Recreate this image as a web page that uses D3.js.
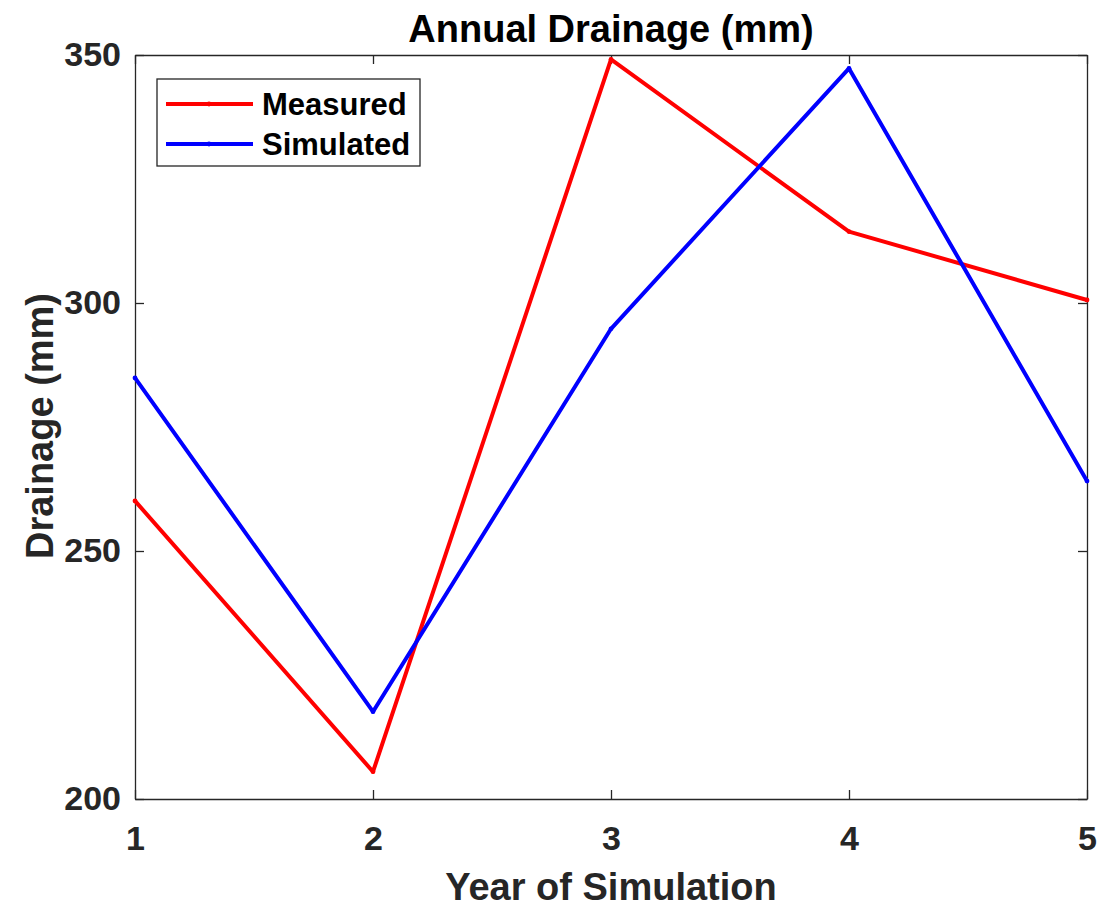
<!DOCTYPE html>
<html>
<head>
<meta charset="utf-8">
<script src="https://cdn.jsdelivr.net/npm/d3@7"></script>
<style>
  body { margin: 0; background: #fff; }
  text { font-family: "Liberation Sans", Arial, sans-serif; font-weight: bold; fill: #262626; }
</style>
</head>
<body>
<div id="chart"></div>
<script>
// data
var years = [1, 2, 3, 4, 5];
var measured = [260.1, 205.5, 349.1, 314.4, 300.6];
var simulated = [284.9, 217.6, 294.8, 347.3, 264.1];
var yTicks = [200, 250, 300, 350];

var margin = {top: 55, right: 17, bottom: 110, left: 135};
var width = 1104 - margin.left - margin.right;
var height = 909 - margin.top - margin.bottom;

var svg = d3.select('#chart')
	.append('svg')
		.attr('width', 1104)
		.attr('height', 909)
		.append('g')
			.attr('transform', 'translate(' + margin.left + ',' + margin.top + ')');

var x = d3.scaleLinear().domain([1, 5]).range([0, width]);
var y = d3.scaleLinear().domain([200, 350]).range([height, 0]);

var axisColor = '#262626';
var tickLen = 9;

// inward ticks on all four sides (matlab box style)
function styleAxis(g){
	g.select('.domain').attr('stroke', axisColor).attr('stroke-width', 1.3);
	g.selectAll('.tick line').attr('stroke', axisColor).attr('stroke-width', 1.3);
}

svg.append('g')
	.attr('transform', 'translate(0,' + height + ')')
	.call(d3.axisBottom(x).tickValues(years).tickFormat(d3.format('d')).tickSizeInner(-tickLen).tickSizeOuter(0).tickPadding(27))
	.call(styleAxis)
	.selectAll('text').style('font-size', '34px').attr('dy', '0.71em').attr('fill', axisColor);

svg.append('g')
	.call(d3.axisTop(x).tickValues(years).tickFormat('').tickSizeInner(-tickLen).tickSizeOuter(0))
	.call(styleAxis);

svg.append('g')
	.call(d3.axisLeft(y).tickValues(yTicks).tickSizeInner(-tickLen).tickSizeOuter(0).tickPadding(14))
	.call(styleAxis)
	.selectAll('text').style('font-size', '34px').attr('fill', axisColor);

svg.append('g')
	.attr('transform', 'translate(' + width + ',0)')
	.call(d3.axisRight(y).tickValues(yTicks).tickFormat('').tickSizeInner(-tickLen).tickSizeOuter(0))
	.call(styleAxis);

// lines
var line = d3.line()
	.x(function(d, i){ return x(years[i]); })
	.y(function(d){ return y(d); });

var series = [
	{name: 'Measured', values: measured, color: '#ff0000'},
	{name: 'Simulated', values: simulated, color: '#0000ff'}
];

series.forEach(function(s){
	svg.append('path')
		.datum(s.values)
		.attr('fill', 'none')
		.attr('stroke', s.color)
		.attr('stroke-width', 4)
		.attr('stroke-linejoin', 'round')
		.attr('d', line);
	svg.selectAll('.dot-' + s.name)
		.data(s.values).enter()
		.append('circle')
			.attr('cx', function(d, i){ return x(years[i]); })
			.attr('cy', function(d){ return y(d); })
			.attr('r', 2.4)
			.attr('fill', s.color);
});

// title and axis labels
svg.append('text')
	.attr('x', width / 2)
	.attr('y', -13)
	.style('text-anchor', 'middle')
	.style('font-size', '38px')
	.style('fill', '#000')
	.text('Annual Drainage (mm)');

svg.append('text')
	.attr('x', width / 2)
	.attr('y', height + 101)
	.style('text-anchor', 'middle')
	.style('font-size', '38px')
	.text('Year of Simulation');

svg.append('text')
	.attr('transform', 'translate(' + (-82) + ',' + (height / 2 - 1) + ') rotate(-90)')
	.style('text-anchor', 'middle')
	.style('font-size', '38px')
	.text('Drainage (mm)');

// legend
var legend = svg.append('g').attr('transform', 'translate(22,24)');
legend.append('rect')
	.attr('width', 263)
	.attr('height', 87)
	.attr('fill', '#fff')
	.attr('stroke', axisColor)
	.attr('stroke-width', 1.3);

series.forEach(function(s, i){
	var ly = 25 + i * 40;
	legend.append('line')
		.attr('x1', 9).attr('x2', 96)
		.attr('y1', ly).attr('y2', ly)
		.attr('stroke', s.color)
		.attr('stroke-width', 4);
	legend.append('circle')
		.attr('cx', 52).attr('cy', ly).attr('r', 2.4).attr('fill', s.color);
	legend.append('text')
		.attr('x', 105)
		.attr('y', ly)
		.attr('dy', '0.36em')
		.style('font-size', '31px')
		.style('fill', '#000')
		.text(s.name);
});
</script>
</body>
</html>
